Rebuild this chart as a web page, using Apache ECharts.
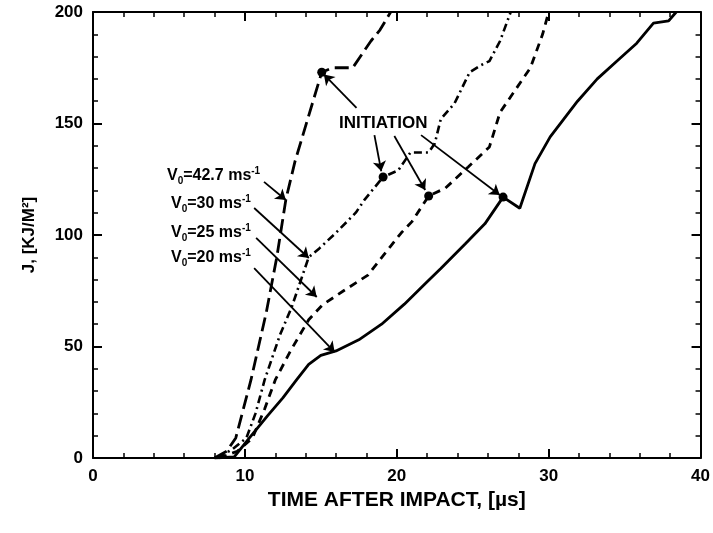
<!DOCTYPE html>
<html>
<head>
<meta charset="utf-8">
<script src="https://cdn.jsdelivr.net/npm/echarts@6/dist/echarts.min.js"></script>
<style>html,body{margin:0;padding:0;background:#fff}#c{width:713px;height:533px}</style>
</head>
<body>
<div id="c"></div>
<script>
// ---- data (time in µs, J in kJ/m²) ----
var xTicks = [0, 10, 20, 30, 40];
var yTicks = [0, 50, 100, 150, 200];

var v20Data = [[8.0,0],[9.3,0.5],[10.3,9],[11.5,19],[12.5,27],[13.4,35],[14.2,42],[15.0,46],[16.0,48],[17.5,53],[19.0,60],[20.5,69],[22.0,79],[22.9,85],[24.5,96],[25.8,105],[27.0,117],[28.1,112],[29.1,132],[30.1,144],[31.9,160],[33.2,170],[34.5,178],[35.8,186],[36.9,195],[37.9,196],[38.4,200]];
var v25Data = [[8.3,0],[9.5,3],[10.5,9],[11.3,22],[12.0,35],[13.0,48],[14.2,62],[15.1,68.6],[16.5,75],[18.1,82],[19.6,95],[20.3,101],[21.0,106],[22.1,117.5],[23.2,121],[24.7,130.5],[26.1,139.5],[26.8,155],[27.8,165],[28.8,175],[29.6,190],[30.0,200]];
var v30Data = [[8.2,0],[9.2,4],[10.1,9],[10.7,20],[11.3,35],[12.3,55],[13.1,68],[13.7,80],[14.2,90],[14.9,94],[16.0,101],[17.3,110],[17.9,116],[19.1,126],[20.1,129],[20.9,137],[22.1,137],[22.5,141],[22.9,152],[23.8,159],[24.8,173],[25.5,176],[26.1,178],[26.8,187],[27.5,200]];
var v427Data = [[8.0,0],[8.8,3],[9.4,9],[10.4,35],[11.4,65],[12.1,90],[12.7,116],[13.3,133],[15.06,173],[15.8,175],[17.1,175],[18.3,187],[18.9,192],[19.6,200]];
var initiationPts = [[15.06,173],[19.1,126],[22.1,117.5],[27.0,117]];

// annotation arrows [from, to] in data units
var labelArrows = [
  [[11.26,123.8],[12.70,115.7]],
  [[10.61,112.1],[14.21,89.7]],
  [[10.74,98.7],[14.73,72.2]],
  [[10.61,85.2],[15.91,47.5]]
];
var initArrows = [
  [[17.35,157],[15.2,172]],
  [[18.53,144.8],[18.98,128.6]],
  [[19.84,144.4],[21.87,120.2]],
  [[21.60,144.8],[26.78,117.9]]
];
var curveLabels = ['42.7', '30', '25', '20'];

var FONT = 'Liberation Sans';
var chart = echarts.init(document.getElementById('c'), null, {renderer:'canvas'});

function axisCommon(extra) {
  var base = {
    type: 'value',
    axisLine: {show:true, onZero:false, lineStyle:{color:'#000', width:2}},
    axisTick: {show:true, inside:true, length:9, lineStyle:{color:'#000', width:2}},
    minorTick: {show:true, splitNumber:5, length:5, lineStyle:{color:'#000', width:1.5}},
    splitLine: {show:false},
    minorSplitLine: {show:false}
  };
  for (var k in extra) base[k] = extra[k];
  return base;
}
var labelStyle = {color:'#000', fontFamily:FONT, fontWeight:'bold', fontSize:17};

var arrowLines = labelArrows.concat(initArrows).map(function(a){
  return [{coord:a[0]},{coord:a[1]}];
});

var graphics = [];
var labelTops = [176, 204, 233, 258];
curveLabels.forEach(function(v, i){
  graphics.push({
    type:'text', x: 167 + (i===0?0:4), y: labelTops[i],
    style: {
      text: '{m|V}{s|0}{m|=' + v + ' ms}{p|-1}',
      verticalAlign: 'middle',
      rich: {
        m: {fontSize:16, fontWeight:'bold', fontFamily:FONT, fill:'#000', lineHeight:20},
        s: {fontSize:10, fontWeight:'bold', fontFamily:FONT, fill:'#000', lineHeight:12, verticalAlign:'bottom'},
        p: {fontSize:10, fontWeight:'bold', fontFamily:FONT, fill:'#000', lineHeight:12, verticalAlign:'top'}
      }
    }
  });
});
graphics.push({
  type:'text', x:339, y:123,
  style:{text:'INITIATION', fontSize:17, fontWeight:'bold', fontFamily:FONT, fill:'#000', verticalAlign:'middle'}
});

var option = {
  animation: false,
  backgroundColor: '#fff',
  grid: {left:93, right:9, top:12, bottom:75},
  xAxis: [
    axisCommon({min:0, max:40, interval:10, position:'bottom',
      axisLabel:Object.assign({margin:10, formatter:function(v){return xTicks.indexOf(v)>=0?String(v):'';}}, labelStyle),
      name:'TIME AFTER IMPACT, [µs]', nameLocation:'middle', nameGap:27,
      nameTextStyle:{color:'#000', fontFamily:FONT, fontWeight:'bold', fontSize:21}}),
    axisCommon({min:0, max:40, interval:10, position:'top', axisLabel:{show:false}})
  ],
  yAxis: [
    axisCommon({min:0, max:200, interval:50, position:'left',
      axisLabel:Object.assign({margin:10, formatter:function(v){return yTicks.indexOf(v)>=0?String(v):'';}}, labelStyle),
      name:'J, [KJ/M²]', nameLocation:'middle', nameGap:55, nameRotate:90,
      nameTextStyle:{color:'#000', fontFamily:FONT, fontWeight:'bold', fontSize:17}}),
    axisCommon({min:0, max:200, interval:50, position:'right', axisLabel:{show:false}})
  ],
  series: [
    {type:'line', name:'V0=20', data:v20Data, showSymbol:false, symbol:'none',
      lineStyle:{color:'#000', width:2.8, type:'solid'}},
    {type:'line', name:'V0=25', data:v25Data, showSymbol:false, symbol:'none',
      lineStyle:{color:'#000', width:2.8, type:[8,6]}},
    {type:'line', name:'V0=30', data:v30Data, showSymbol:false, symbol:'none',
      lineStyle:{color:'#000', width:2.6, type:[8,4,2,4]}},
    {type:'line', name:'V0=42.7', data:v427Data, showSymbol:false, symbol:'none',
      lineStyle:{color:'#000', width:2.8, type:[14,6]}},
    {type:'scatter', name:'initiation', data:initiationPts, symbol:'circle', symbolSize:9,
      itemStyle:{color:'#000', opacity:1}, z:5,
      markLine:{silent:true, symbol:['none','arrow'], symbolSize:10, label:{show:false},
        lineStyle:{color:'#000', width:1.8, type:'solid'}, data:arrowLines}}
  ],
  graphic: graphics
};
chart.setOption(option);
</script>
</body>
</html>
